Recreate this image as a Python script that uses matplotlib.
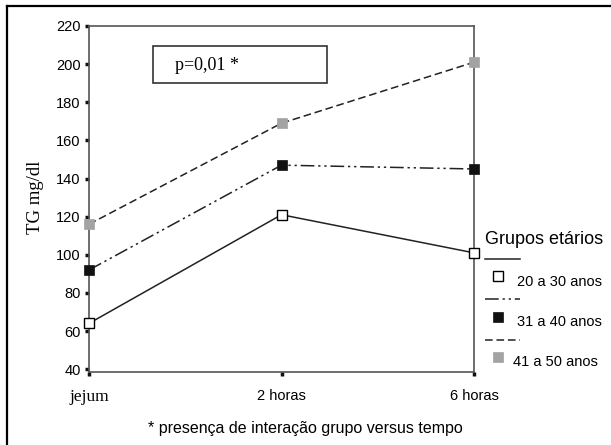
import matplotlib
matplotlib.use('Agg')
import matplotlib.pyplot as plt
from matplotlib.lines import Line2D
from matplotlib.patches import Rectangle

# Data
tempos = ['jejum', '2 horas', '6 horas']
grupos = ['20 a 30 anos', '31 a 40 anos', '41 a 50 anos']
tg_20_30 = [64, 121, 101]
tg_31_40 = [92, 147, 145]
tg_41_50 = [116, 169, 201]
y_ticks = [40, 60, 80, 100, 120, 140, 160, 180, 200, 220]

W, H = 611, 445
fig = plt.figure(figsize=(W / 100, H / 100), dpi=100)

def fx(px):
    return px / W

def fy(py):
    return 1 - py / H

# outer frame (top and left edges only visible)
fig.add_artist(Line2D([fx(7), fx(7)], [0, fy(6)], color='black', lw=1.6))
fig.add_artist(Line2D([fx(7), 1], [fy(6), fy(6)], color='black', lw=1.6))

ax = fig.add_axes([fx(89), fy(372), fx(474) - fx(89), fy(26) - fy(372)])
x = list(range(len(tempos)))

line_col = '#222222'
styles = [
    dict(ls='-', marker='s', mfc='white', mec='black', mew=1.0),
    dict(ls=(0, (9, 2.5, 1.5, 2.5, 1.5, 2.5)), marker='s', mfc='#111111', mec='#111111', mew=0.5),
    dict(ls=(0, (5, 2.5)), marker='s', mfc='#a3a3a3', mec='#a3a3a3', mew=0.5),
]
series = [tg_20_30, tg_31_40, tg_41_50]
for vals, st in zip(series, styles):
    ax.plot(x, vals, color=line_col, lw=1.1, ms=6.5, clip_on=False, zorder=3, **st)

ax.set_xlim(0, 2)
ax.set_ylim(38.5, 220)
ax.set_yticks(y_ticks)
ax.set_xticks(x)
ax.set_xticklabels(tempos)
for s in ax.spines.values():
    s.set_color('#555555')
    s.set_linewidth(1.2)
ax.tick_params(axis='both', direction='out', length=3, width=2.5, color='#111111',
               labelsize=10.5, pad=3)
ax.tick_params(axis='x', pad=9)
for lab in ax.get_yticklabels() + ax.get_xticklabels():
    lab.set_fontfamily('Liberation Sans')
ax.get_xticklabels()[0].set_fontfamily('Liberation Serif')
ax.get_xticklabels()[0].set_fontsize(12.5)

fig.text(fx(36), fy(197), 'TG mg/dl', rotation=90, family='Liberation Serif',
         fontsize=13.5, ha='center', va='center')

# p-value box
fig.add_artist(Rectangle((fx(153), fy(83)), fx(327) - fx(153), fy(46) - fy(83),
                         transform=fig.transFigure, fill=False, ec='#333333', lw=1.2))
fig.text(fx(175), fy(65), 'p=0,01 *', family='Liberation Serif', fontsize=13,
         ha='left', va='center')

# legend drawn by hand
fig.text(fx(485), fy(239), 'Grupos etários', family='Liberation Sans', fontsize=13,
         ha='left', va='center')
leg_lines = [259, 299, 340]
leg_marks = [276, 317, 357]
leg_labels = [(517, 282), (517, 322), (513, 362)]
for i, st in enumerate(styles):
    fig.add_artist(Line2D([fx(485), fx(520)], [fy(leg_lines[i])] * 2, color=line_col,
                          lw=1.1, ls=st['ls']))
    fig.add_artist(Line2D([fx(498)], [fy(leg_marks[i])], ls='none', marker='s', ms=6.5,
                          mfc=st['mfc'], mec=st['mec'], mew=st['mew']))
    lx, ly = leg_labels[i]
    fig.text(fx(lx), fy(ly), grupos[i], family='Liberation Sans', fontsize=10.5,
             ha='left', va='center')

fig.text(fx(305), fy(428), '* presença de interação grupo versus tempo',
         family='Liberation Sans', fontsize=11.5, ha='center', va='center')

fig.savefig('out.png', dpi=100)
